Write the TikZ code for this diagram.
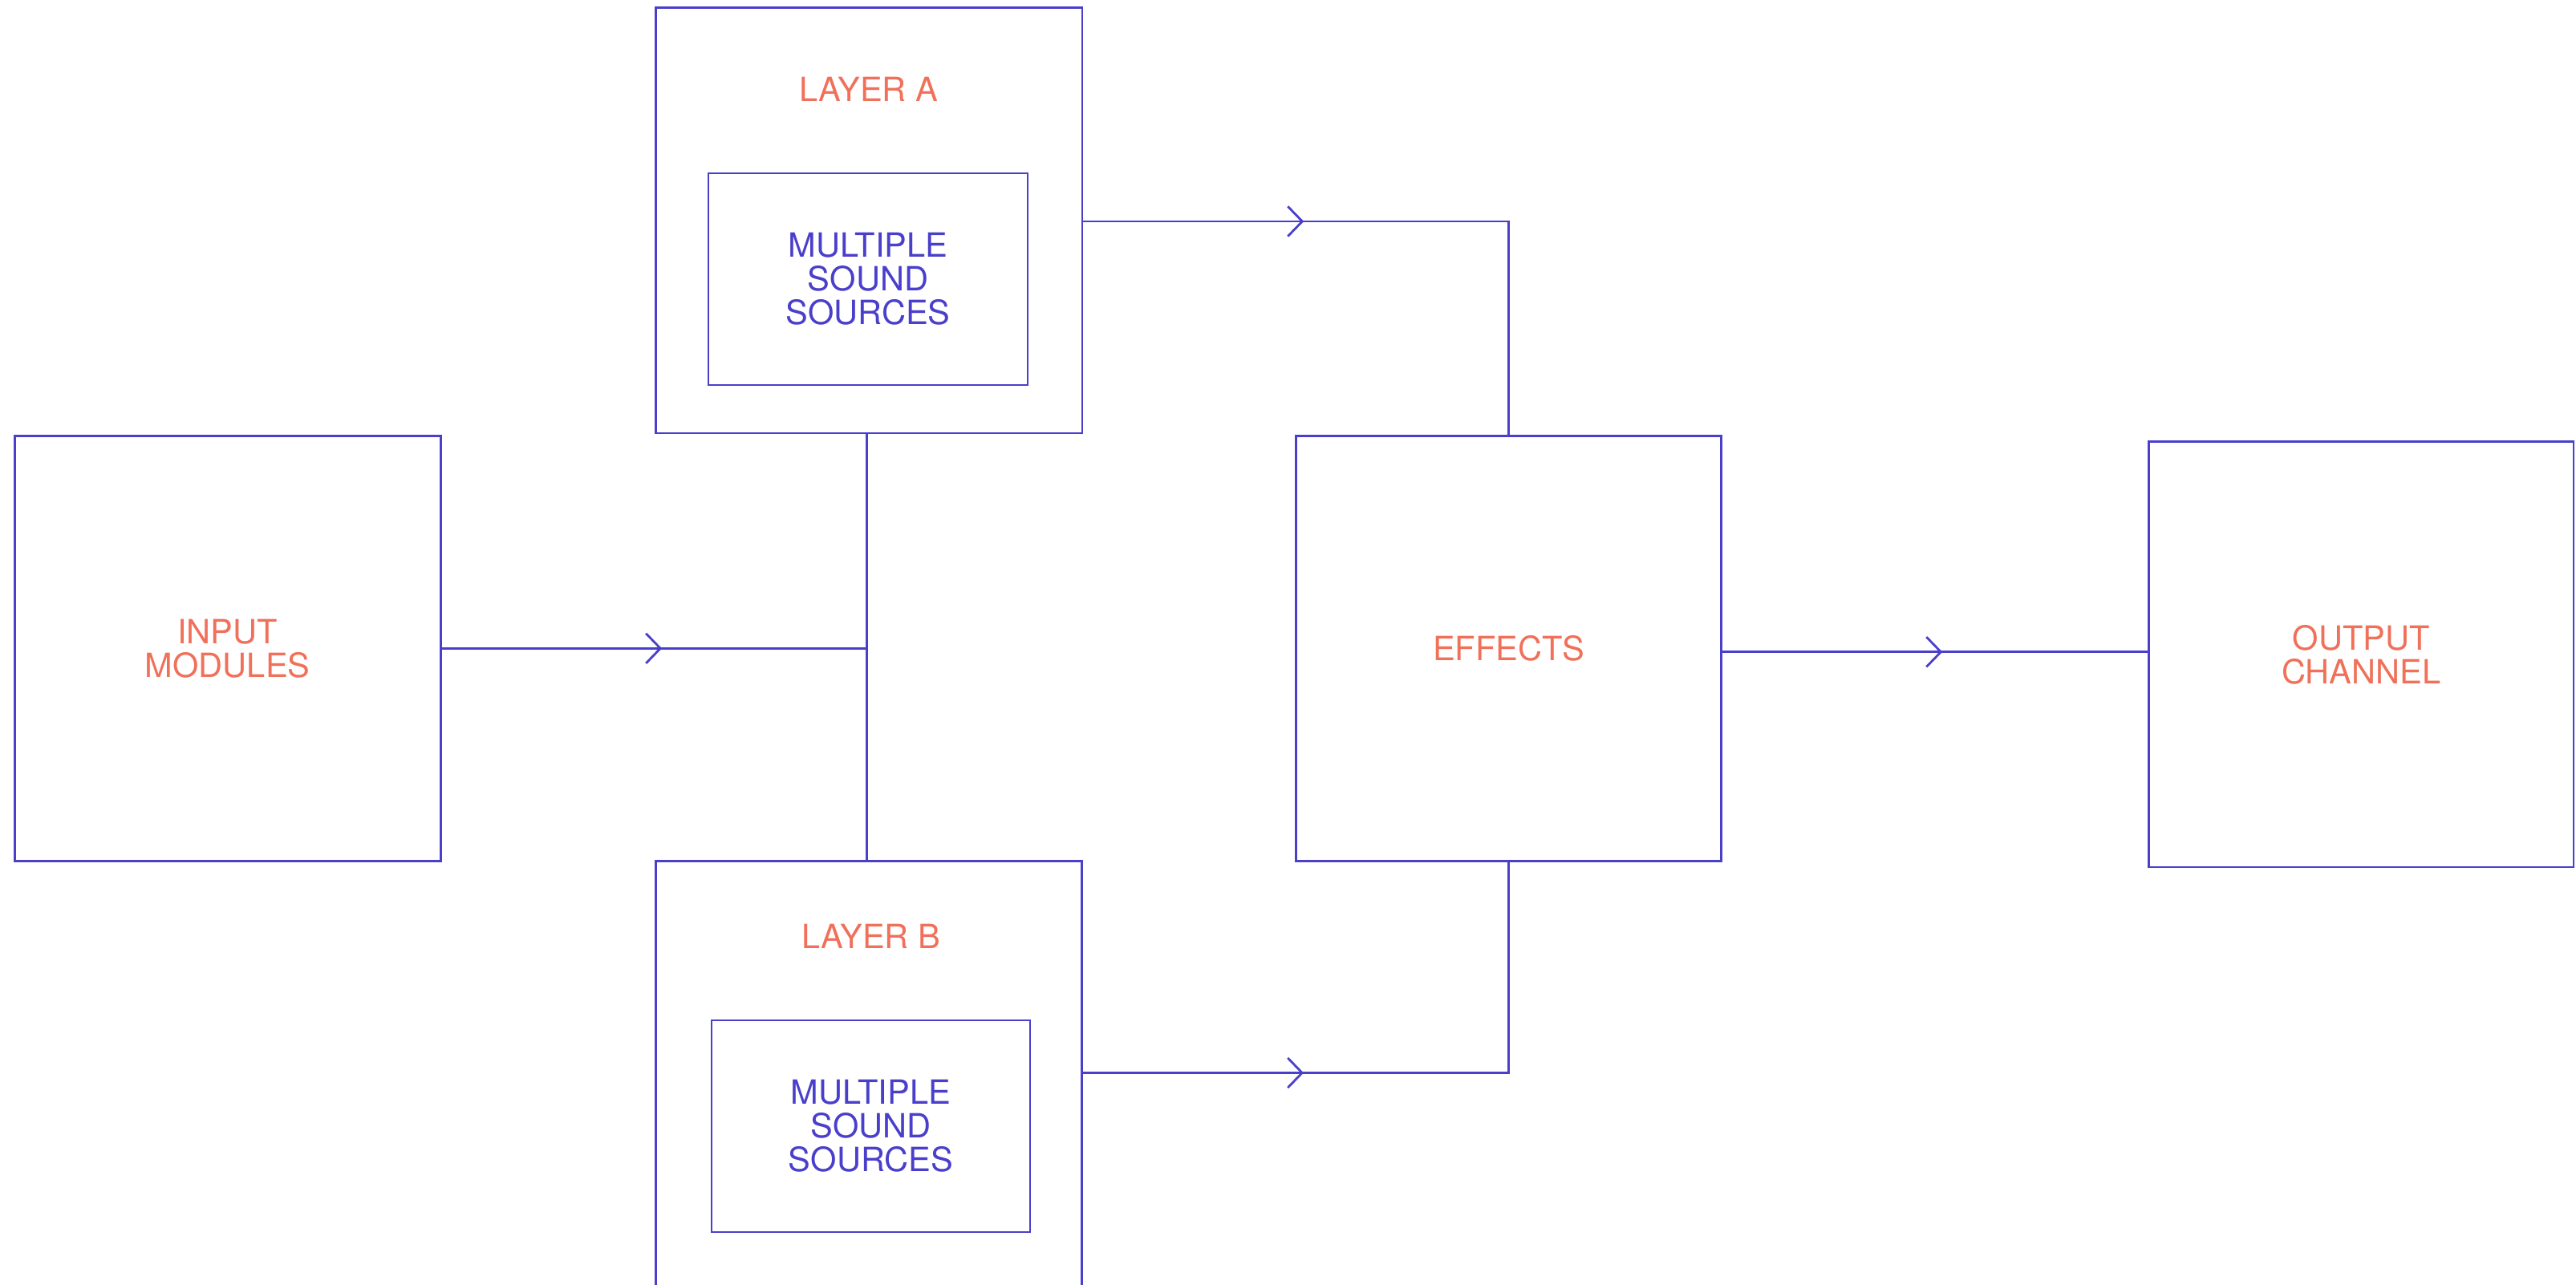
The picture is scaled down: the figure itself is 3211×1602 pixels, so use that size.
\documentclass[tikz,border=0pt]{standalone}
\usepackage{fontspec}
\setmainfont{TeX Gyre Heros}
\usetikzlibrary{arrows.meta,decorations.markings}
\definecolor{lineblue}{HTML}{4A3FCB}
\definecolor{salmon}{HTML}{F0705A}
\begin{document}
\begin{tikzpicture}[x=0.25pt,y=-0.25pt,
  box/.style={draw=lineblue, line width=0.7pt, inner sep=0pt, align=center,
    font=\fontsize{10.4}{10.5}\selectfont},
  outerbox/.style={box, text=salmon},
  innerbox/.style={box, text=lineblue},
  lbl/.style={inner sep=0pt, text=salmon, font=\fontsize{10.4}{10.5}\selectfont},
  conn/.style={draw=lineblue, line width=0.7pt},
  marrow/.style={postaction={decorate}, decoration={markings,
    mark=at position #1 with {\arrow[lineblue]{Straight Barb[length=4.5pt,width=9.3pt]}}}}
]
\useasboundingbox (0,0) rectangle (3211,1602);
\clip (0,0) rectangle (3211,1602);

% boxes
\node[outerbox, minimum width=132.8pt, minimum height=132.6pt] (input) at (283.75,808.35) {INPUT\\MODULES};
\node[box, minimum width=132.9pt, minimum height=132.6pt] (layerA) at (1083.25,274.8) {};
\node[innerbox, minimum width=99.5pt, minimum height=66pt] (innerA) at (1082,348) {MULTIPLE\\SOUND\\SOURCES};
\node[lbl] (labA) at (1083,111.6) {LAYER A};
\node[box, minimum width=132.75pt, minimum height=133pt] (layerB) at (1083,1339.5) {};
\node[innerbox, minimum width=99.25pt, minimum height=66pt] (innerB) at (1085.5,1404) {MULTIPLE\\SOUND\\SOURCES};
\node[lbl] (labB) at (1086,1167.6) {LAYER B};
\node[outerbox, minimum width=132.5pt, minimum height=132.6pt] (effects) at (1880.45,808.35) {EFFECTS};
\node[outerbox, minimum width=132.3pt, minimum height=132.6pt] (output) at (2943.4,815.85) {OUTPUT\\CHANNEL};

% bus
\coordinate (busTop) at ([xshift=-0.7pt]layerA.south);
\coordinate (busBot) at (busTop |- layerB.north);
\draw[conn] (busTop) -- (busBot);

% connectors
\draw[conn, marrow=68.6pt] (input.east) -- (input.east -| busTop);
\draw[conn, marrow=68.7pt] ([yshift=-0.3pt]layerA.east) -| (effects.north);
\draw[conn, marrow=68.8pt] ([yshift=0.5pt]layerB.east) -| (effects.south);
\draw[conn, marrow=68.6pt] ([yshift=-1.1pt]effects.east) -- ([yshift=-1.1pt]effects.east -| output.west);
\end{tikzpicture}
\end{document}
